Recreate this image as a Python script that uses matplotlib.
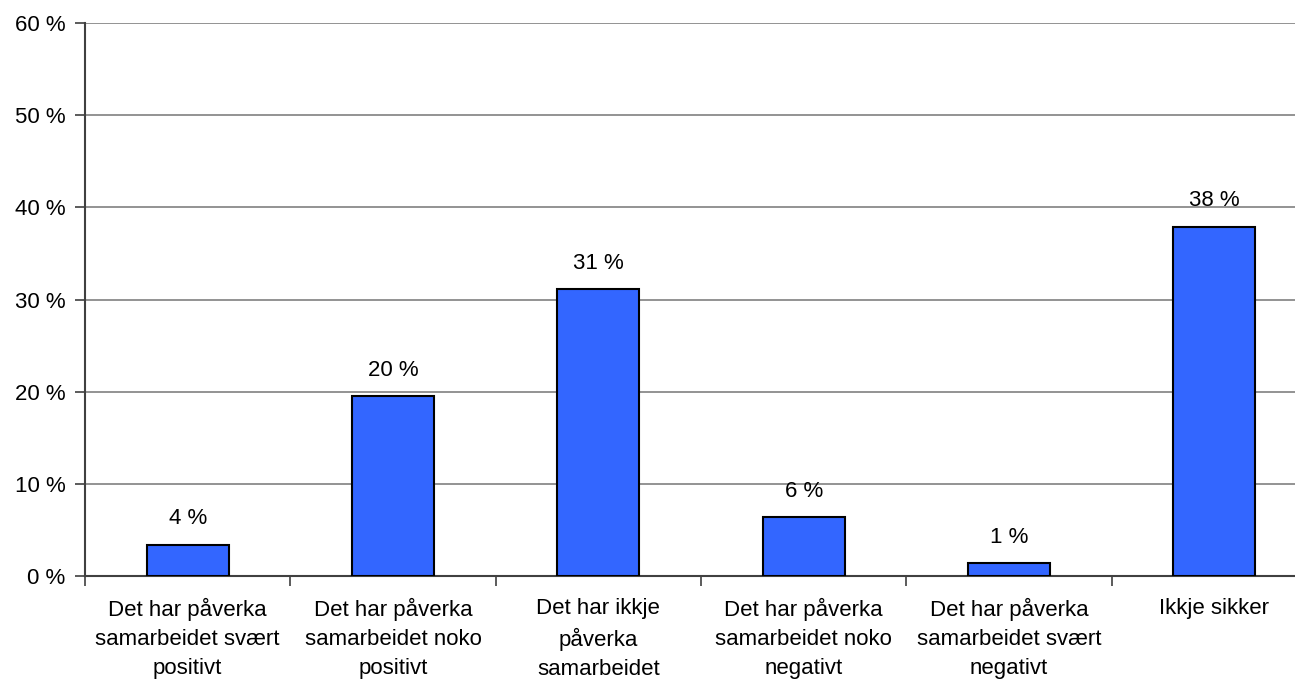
import matplotlib
matplotlib.use("Agg")
import matplotlib.pyplot as plt
from matplotlib.ticker import FixedLocator

plt.rcParams['font.family'] = ['Liberation Sans', 'DejaVu Sans']

categories = [
    "Det har påverka\nsamarbeidet svært\npositivt",
    "Det har påverka\nsamarbeidet noko\npositivt",
    "Det har ikkje\npåverka\nsamarbeidet",
    "Det har påverka\nsamarbeidet noko\nnegativt",
    "Det har påverka\nsamarbeidet svært\nnegativt",
    "Ikkje sikker",
]
values = [3.4, 19.5, 31.1, 6.4, 1.4, 37.9]
value_labels = ["4 %", "20 %", "31 %", "6 %", "1 %", "38 %"]
yticks = [0, 10, 20, 30, 40, 50, 60]

W, H = 1295, 684
fig = plt.figure(figsize=(W / 100, H / 100), dpi=100)
left, right, top, bottom = 85, 1317, 23, 576
ax = fig.add_axes([left / W, 1 - bottom / H, (right - left) / W, (bottom - top) / H])

x = list(range(len(categories)))
ax.bar(x, values, width=0.4, color="#3366FF", edgecolor="black", linewidth=1.5, zorder=3)
for xi, v, lab in zip(x, values, value_labels):
    ax.annotate(lab, (xi, v), xytext=(0, 11), textcoords="offset points",
                ha="center", va="bottom", fontsize=16)

ax.set_xlim(-0.5, len(categories) - 0.5)
ax.set_ylim(0, 60)
ax.set_yticks(yticks)
ax.set_yticklabels([f"{t} %" for t in yticks], fontsize=16)
ax.yaxis.grid(True, color="#808080", linewidth=1.2, zorder=0)

ax.xaxis.set_major_locator(FixedLocator([i - 0.5 for i in range(len(categories) + 1)]))
ax.xaxis.set_major_formatter(plt.NullFormatter())
ax.xaxis.set_minor_locator(FixedLocator(x))
ax.set_xticklabels(categories, minor=True, fontsize=16, linespacing=1.5)
ax.tick_params(axis="x", which="minor", length=0, pad=16)
ax.tick_params(axis="x", which="major", length=7, width=1.2, color="#404040", direction="out")
ax.tick_params(axis="y", length=7, width=1.2, color="#404040", direction="out", pad=7)

for s in ["top", "right"]:
    ax.spines[s].set_visible(False)
for s in ["left", "bottom"]:
    ax.spines[s].set_color("#404040")
    ax.spines[s].set_linewidth(1.5)

fig.savefig("out.png", dpi=100)
